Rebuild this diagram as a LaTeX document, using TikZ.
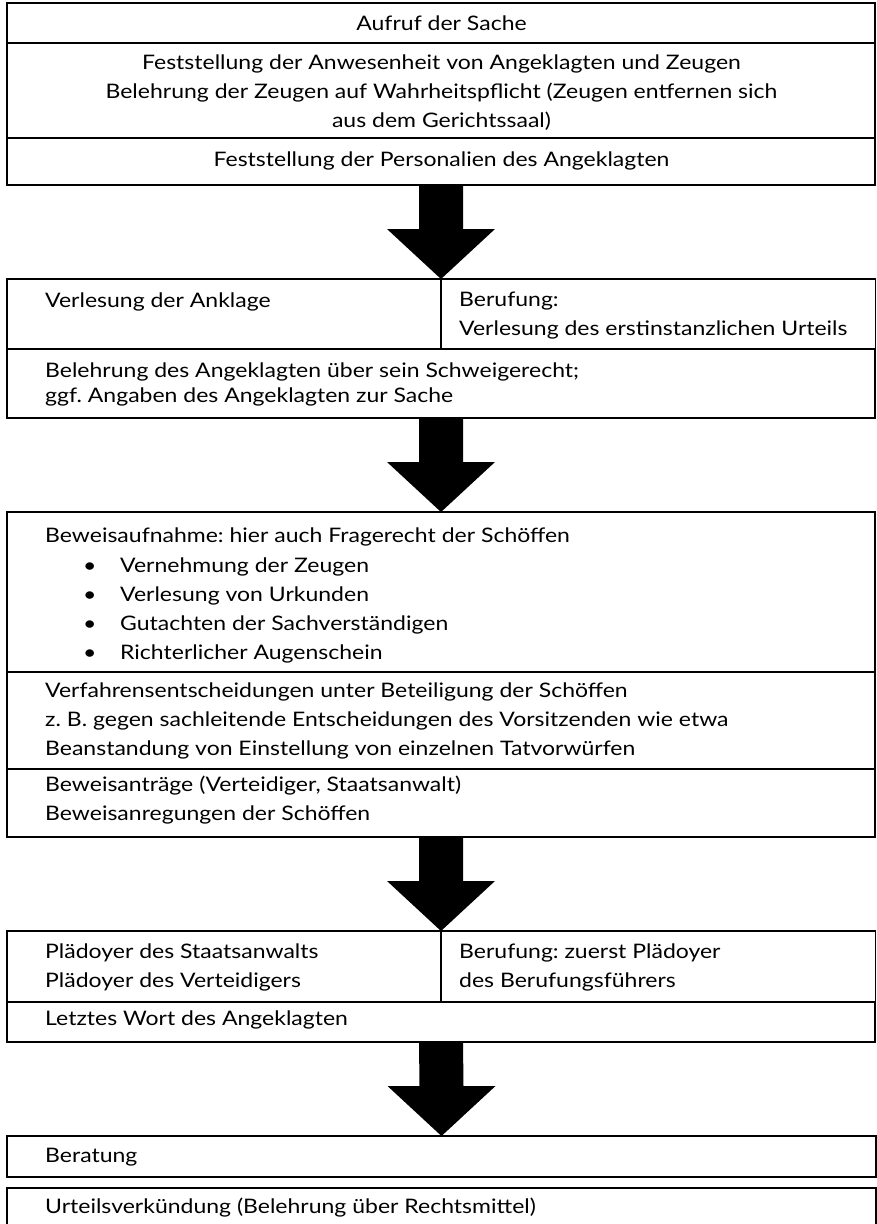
\documentclass[tikz,border=0pt]{standalone}
\usepackage{fontspec}
\setmainfont{Lato}[FakeStretch=1.15]
\usetikzlibrary{calc}
\frenchspacing
\newcommand{\fs}{\fontsize{20pt}{29pt}\selectfont}
\newcommand{\blockarr}[2]{%
  \fill ($(#1)+(-22,0)$) -- ($(#2)+(-22,-50)$) -- ($(#2)+(-54,-50)$) -- (#2)
        -- ($(#2)+(54,-50)$) -- ($(#2)+(22,-50)$) -- ($(#1)+(22,0)$) -- cycle;}
\begin{document}
\begin{tikzpicture}[x=1pt,y=-1pt,
  cell/.style={draw, line width=1.3pt, rectangle, inner sep=0pt, outer sep=0pt, anchor=north west},
  ltxt/.style={inner sep=0pt, font=\fs, anchor=west, align=left},
  ctxt/.style={inner sep=0pt, font=\fs, align=center}]
\useasboundingbox (0,0) rectangle (877,1224);

% Box 1
\node[cell, minimum width=868pt, minimum height=40pt] (aufruf) at (7,3) {};
\node[cell, minimum width=868pt, minimum height=95pt] (anwesenheit) at (7,43) {};
\node[cell, minimum width=868pt, minimum height=47pt] (personalien) at (7,138) {};
\node[ctxt] (t-aufruf) at (441.5,23) {Aufruf der Sache};
\node[ctxt] (t-anwesenheit) at (441.5,93) {Feststellung der Anwesenheit von Angeklagten und Zeugen\\
Belehrung der Zeugen auf Wahrheitspflicht (Zeugen entfernen sich\\ aus dem Gerichtssaal)};
\node[ctxt] (t-personalien) at (441.5,161) {Feststellung der Personalien des Angeklagten};

% Box 2
\node[cell, minimum width=434pt, minimum height=70pt] (anklage) at (7,279) {};
\node[cell, minimum width=434.5pt, minimum height=70pt] (berufung) at (441,279) {};
\node[cell, minimum width=868pt, minimum height=69pt] (schweigerecht) at (7,349) {};
\node[ltxt] (t-anklage) at (45,302) {Verlesung der Anklage};
\node[ltxt] (t-berufung) at (459,316) {Berufung:\\Verlesung des erstinstanzlichen Urteils};
\node[ltxt, font=\fontsize{20pt}{25pt}\selectfont] (t-schweigerecht) at (45,384.5) {Belehrung des Angeklagten über sein Schweigerecht;\\ggf. Angaben des Angeklagten zur Sache};

% Box 3
\node[cell, minimum width=868pt, minimum height=160pt] (beweisaufnahme) at (7,512) {};
\node[cell, minimum width=868pt, minimum height=97pt] (verfahren) at (7,672) {};
\node[cell, minimum width=868pt, minimum height=68pt] (beweisantraege) at (7,769) {};
\node[ltxt] (t-beweisaufnahme) at (45,537) {Beweisaufnahme: hier auch Fragerecht der Schöffen};
\node[ltxt] (t-bullets) at (83,610.5) {\makebox[37pt][l]{•}Vernehmung der Zeugen\\
\makebox[37pt][l]{•}Verlesung von Urkunden\\
\makebox[37pt][l]{•}Gutachten der Sachverständigen\\
\makebox[37pt][l]{•}Richterlicher Augenschein};
\node[ltxt] (t-verfahren) at (45,721) {Verfahrensentscheidungen unter Beteiligung der Schöffen\\
z. B. gegen sachleitende Entscheidungen des Vorsitzenden wie etwa\\
Beanstandung von Einstellung von einzelnen Tatvorwürfen};
\node[ltxt] (t-beweisantraege) at (45,800) {Beweisanträge (Verteidiger, Staatsanwalt)\\Beweisanregungen der Schöffen};

% Box 4
\node[cell, minimum width=434pt, minimum height=71pt] (plaedoyer) at (7,931) {};
\node[cell, minimum width=434.5pt, minimum height=71pt] (berufung2) at (441,931) {};
\node[cell, minimum width=868pt, minimum height=40pt] (letztes) at (7,1002) {};
\node[ltxt] (t-plaedoyer) at (45,967.5) {Plädoyer des Staatsanwalts\\Plädoyer des Verteidigers};
\node[ltxt] (t-berufung2) at (459,967.5) {Berufung: zuerst Plädoyer\\des Berufungsführers};
\node[ltxt] (t-letztes) at (45,1020) {Letztes Wort des Angeklagten};

% Box 5, 6
\node[cell, minimum width=869pt, minimum height=41pt] (beratung) at (7,1136) {};
\node[ltxt] (t-beratung) at (45,1157) {Beratung};
\node[cell, minimum width=869pt, minimum height=60pt] (urteil) at (7,1188) {};
\node[ltxt] (t-urteil) at (45,1208) {Urteilsverkündung (Belehrung über Rechtsmittel)};

% Arrows
\blockarr{personalien.south}{anklage.north east}
\blockarr{schweigerecht.south}{beweisaufnahme.north}
\blockarr{beweisantraege.south}{plaedoyer.north east}
\blockarr{letztes.south}{beratung.north}
\end{tikzpicture}
\end{document}
